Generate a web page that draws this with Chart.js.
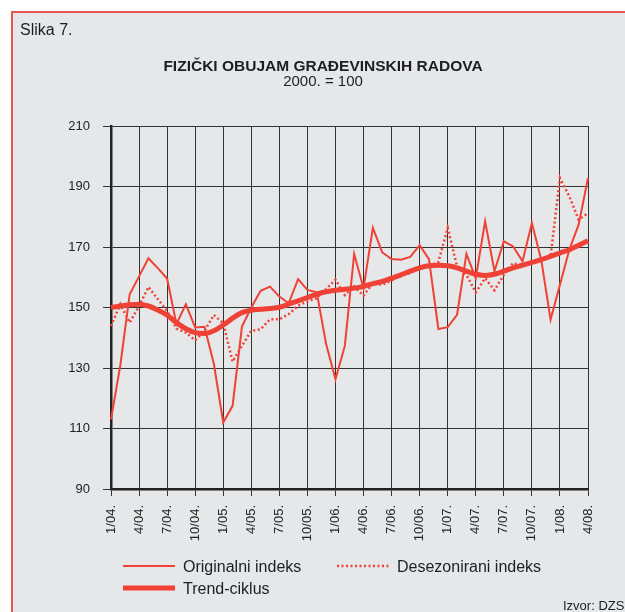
<!DOCTYPE html>
<html>
<head>
<meta charset="utf-8">
<script src="https://cdn.jsdelivr.net/npm/chart.js@4.4.1/dist/chart.umd.min.js"></script>
<style>
    html, body { margin: 0; padding: 0; background: #fff; width: 625px; height: 612px; overflow: hidden; }
    #frame { position: absolute; left: 11px; top: 11px; width: 700px; height: 700px; background: #e6e7e9;
             border-left: 2px solid #e8564e; border-top: 2px solid #e8564e; }
    #chart { position: absolute; left: 0; top: 0; }
</style>
</head>
<body>
<div id="frame"></div>
<canvas id="chart" width="625" height="612"></canvas>
<script>
// mjeseci 1/04. - 4/08.
const months = [
    '1/04.', '2/04.', '3/04.', '4/04.', '5/04.', '6/04.', '7/04.', '8/04.', '9/04.', '10/04.', '11/04.', '12/04.',
    '1/05.', '2/05.', '3/05.', '4/05.', '5/05.', '6/05.', '7/05.', '8/05.', '9/05.', '10/05.', '11/05.', '12/05.',
    '1/06.', '2/06.', '3/06.', '4/06.', '5/06.', '6/06.', '7/06.', '8/06.', '9/06.', '10/06.', '11/06.', '12/06.',
    '1/07.', '2/07.', '3/07.', '4/07.', '5/07.', '6/07.', '7/07.', '8/07.', '9/07.', '10/07.', '11/07.', '12/07.',
    '1/08.', '2/08.', '3/08.', '4/08.'
];

const original = [
    113, 131, 154.4, 160.3, 166.3, 163, 159.6, 144.5, 151.1, 143.4, 143.6, 131.3,
    112, 117.5, 143.7, 150, 155.5, 156.9, 153.6, 151.4, 159.4, 155.8, 155, 137.9,
    126.3, 137.3, 167.7, 156.4, 176.3, 168.2, 166, 165.8, 166.7, 170.6, 166, 142.9,
    143.5, 147.6, 167.7, 159.7, 178.5, 162, 171.9, 170.2, 165.3, 177.9, 165.8, 146,
    157.5, 169.1, 177.4, 192.8
];

const deseasonal = [
    143.9, 151.1, 145, 150.5, 156.8, 152.8, 148.9, 143, 141.7, 139.2, 142.3, 147.5,
    144.8, 132.1, 137.3, 142.3, 142.8, 146.1, 146.1, 147.8, 150.6, 152, 153.1, 156.1,
    159.2, 154.1, 157, 153.9, 158.1, 157.5, 159, 160.6, 161.4, 163.1, 163.8, 165,
    176.3, 163.6, 160.8, 155, 159.7, 155.7, 160.8, 164.7, 163.6, 165.3, 165.3, 166.9,
    192.8, 186.8, 179, 181.2
];

const trend = [
    150, 150.5, 150.9, 151.1, 150.5, 149.2, 147.5, 145, 143, 141.7, 141.4, 142.3,
    144.2, 146.5, 148.3, 149.1, 149.4, 149.7, 150.1, 151.1, 152.2, 153.3, 154.4, 155.2,
    155.7, 156, 156.4, 157, 157.9, 158.6, 159.7, 160.8, 162, 163.1, 163.8, 164,
    163.8, 163.1, 162, 161, 160.6, 161, 162, 163.1, 164, 164.9, 165.8, 166.9,
    168, 169.1, 170.6, 172.1
];

const RED = '#ef4136';
const FONT = '"Liberation Sans", Arial, sans-serif';

// naslov, izvor i legenda
const decor = {
    id: 'decor',
    afterDraw(chart) {
        const c = chart.ctx;
        c.save();
        c.fillStyle = '#1e1e1e';
        c.textBaseline = 'alphabetic';

        c.font = '16px ' + FONT;
        c.textAlign = 'left';
        c.fillText('Slika 7.', 20, 35);

        c.textAlign = 'center';
        c.font = 'bold 15.5px ' + FONT;
        c.fillText('FIZIČKI OBUJAM GRAĐEVINSKIH RADOVA', 323, 71);
        c.font = '15px ' + FONT;
        c.fillText('2000. = 100', 323, 86);

        c.textAlign = 'left';
        c.font = '13px ' + FONT;
        c.fillText('Izvor: DZS', 563, 610);

        const items = [
            { ds: 0, x: 123, y: 566 },
            { ds: 1, x: 337, y: 566 },
            { ds: 2, x: 123, y: 588 }
        ];
        c.font = '16px ' + FONT;
        items.forEach(it => {
            const d = chart.data.datasets[it.ds];
            c.strokeStyle = d.borderColor;
            c.lineWidth = d.borderWidth;
            c.setLineDash(d.borderDash || []);
            c.beginPath();
            c.moveTo(it.x, it.y);
            c.lineTo(it.x + 52, it.y);
            c.stroke();
            c.setLineDash([]);
            c.fillText(d.label, it.x + 60, it.y + 6);
        });
        c.restore();
    }
};

new Chart(document.getElementById('chart').getContext('2d'), {
    type: 'line',
    data: {
        labels: months,
        datasets: [
            { label: 'Originalni indeks', data: original, borderColor: RED, borderWidth: 2, pointRadius: 0, tension: 0 },
            { label: 'Desezonirani indeks', data: deseasonal, borderColor: RED, borderWidth: 2.5, borderDash: [2, 2.5], pointRadius: 0, tension: 0 },
            { label: 'Trend-ciklus', data: trend, borderColor: RED, borderWidth: 5, pointRadius: 0, cubicInterpolationMode: 'monotone' }
        ]
    },
    options: {
        responsive: false,
        animation: false,
        layout: { padding: { top: 126, right: 37, bottom: 63, left: 0 } },
        plugins: { legend: { display: false }, tooltip: { enabled: false } },
        scales: {
            x: {
                offset: false,
                grid: { color: ctx => ctx.index % 3 === 0 ? '#333' : 'rgba(0,0,0,0)', tickLength: 7, lineWidth: 1 },
                border: { color: '#222', width: 2.5 },
                ticks: {
                    autoSkip: false, minRotation: 90, maxRotation: 90, padding: 9, color: '#222',
                    font: { family: FONT, size: 13 },
                    callback: function (v, i) { return i % 3 === 0 ? this.getLabelForValue(v) : ''; }
                },
                afterFit: s => { s.height = 60; }
            },
            y: {
                min: 90, max: 210,
                grid: { color: '#333', tickLength: 8, lineWidth: 1 },
                border: { color: '#222', width: 2.5 },
                ticks: { stepSize: 20, padding: 13, color: '#222', font: { family: FONT, size: 13 } },
                afterFit: s => { s.width = 111; }
            }
        }
    },
    plugins: [decor]
});
</script>
</body>
</html>
